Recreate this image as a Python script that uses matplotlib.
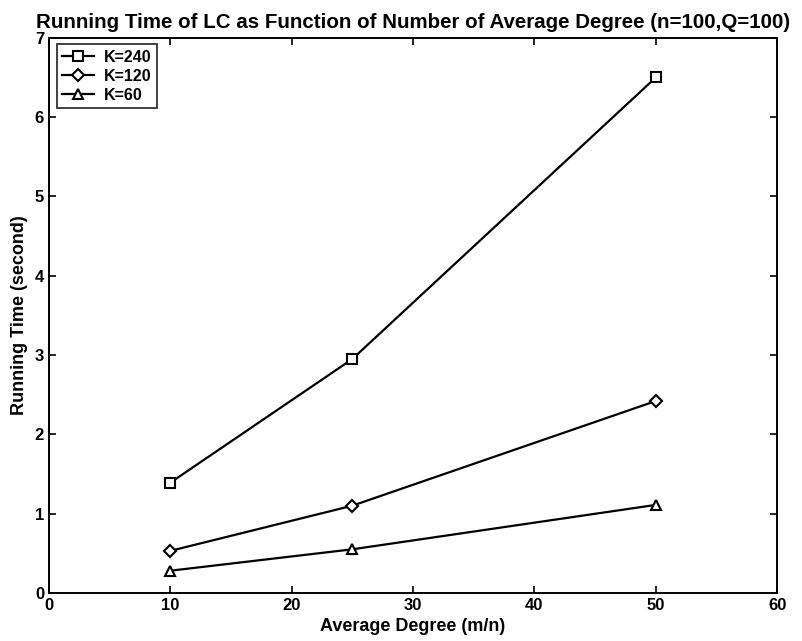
import matplotlib.pyplot as plt

degree = [10, 25, 50]
k240 = [1.39, 2.95, 6.50]
k120 = [0.53, 1.10, 2.42]
k60 = [0.28, 0.55, 1.11]
labels = ["K=240", "K=120", "K=60"]

plt.rcParams["font.family"] = ["Liberation Sans", "DejaVu Sans"]
plt.rcParams["font.weight"] = "bold"
plt.rcParams["axes.titleweight"] = "bold"
plt.rcParams["axes.labelweight"] = "bold"
plt.rcParams["font.size"] = 11

fig = plt.figure(figsize=(8.02, 6.41), dpi=100)
ax = fig.add_axes([0.061, 0.075, 0.908, 0.866])

for y, m, lab in zip([k240, k120, k60], ["s", "D", "^"], labels):
    ms = 6 if m == "D" else 7
    ax.plot(degree, y, color="black", linewidth=1.6, marker=m,
            markersize=ms, markerfacecolor="white", markeredgecolor="black",
            markeredgewidth=1.5, label=lab)

ax.set_xlim(0, 60)
ax.set_ylim(0, 7)
ax.set_xticks(range(0, 61, 10))
ax.set_yticks(range(0, 8))
ax.tick_params(direction="in", top=True, right=True, length=5, width=1.2,
               labelsize=12)
for s in ax.spines.values():
    s.set_linewidth(1.4)

ax.set_title("Running Time of LC as Function of Number of Average Degree (n=100,Q=100)",
             fontsize=14.8, pad=7)
ax.set_xlabel("Average Degree (m/n)", fontsize=13, labelpad=4)
ax.set_ylabel("Running Time (second)", fontsize=13, labelpad=5)

leg = ax.legend(loc="upper left", fontsize=11.5, frameon=True, fancybox=False,
                edgecolor="black", handlelength=2.0, borderpad=0.35,
                labelspacing=0.25, handletextpad=0.6,
                bbox_to_anchor=(0.0, 1.003))
leg.get_frame().set_linewidth(1.3)

plt.savefig("out.png", dpi=100)
plt.close()
